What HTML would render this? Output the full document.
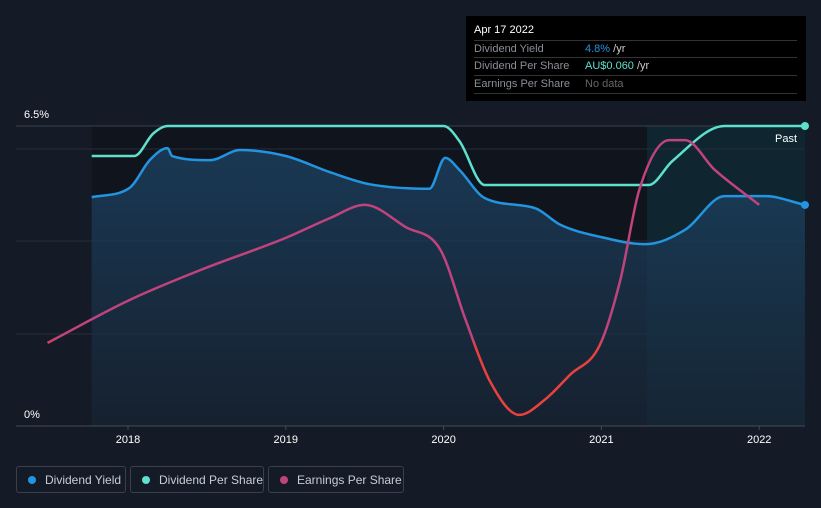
<!DOCTYPE html>
<html><head><meta charset="utf-8"><style>
body{margin:0;background:#151b26;width:821px;height:508px;overflow:hidden;font-family:"Liberation Sans",sans-serif}
svg{position:absolute;left:0;top:0}
.tip{position:absolute;left:466px;top:16px;width:340px;height:85px;background:#000;color:#fff;font-size:11px}
.tip .r{position:absolute;left:8px;width:323px;border-top:1px solid #333;height:17px;line-height:17px;color:#8a8f98}
.tip .v{position:absolute;left:111px}
.leg{position:absolute;top:466px;height:27px;border:1px solid #3a404b;border-radius:3px;color:#c8ccd2;font-size:12px;line-height:26px;box-sizing:border-box;padding-left:28px;white-space:nowrap}
.leg i{position:absolute;left:11px;top:9px;width:8px;height:8px;border-radius:50%}
</style></head><body>
<svg width="821" height="508">
<defs>
<linearGradient id="eg" gradientUnits="userSpaceOnUse" x1="0" y1="126" x2="0" y2="426">
<stop offset="0" stop-color="#c0437e"/><stop offset="0.7" stop-color="#c0437e"/><stop offset="0.74" stop-color="#e8413f"/><stop offset="1" stop-color="#e8413f"/>
</linearGradient>
<linearGradient id="fg" x1="0" y1="0" x2="0" y2="1"><stop offset="0" stop-color="#1d4466"/><stop offset="1" stop-color="#182535"/></linearGradient>
</defs>
<rect x="92" y="126" width="555" height="300" fill="#10141c"/>
<rect x="647" y="126" width="158" height="300" fill="#0f2530"/>
<g id="grid"></g>
<path id="yfill" fill="url(#fg)" opacity="0.75"/>
<path id="yline" fill="none" stroke="#2394df" stroke-width="2.5"/>
<path id="dline" fill="none" stroke="#5ee0cf" stroke-width="2.5"/>
<path id="eline" fill="none" stroke="url(#eg)" stroke-width="2.5"/>
<circle id="ddot" r="4" fill="#5ee0cf"/>
<circle id="ydot" r="4" fill="#2394df"/>
<line x1="16" x2="805" y1="426" y2="426" stroke="#444b56"/>
<g id="xt"></g>
<text x="24" y="118" fill="#fff" font-size="11">6.5%</text>
<text x="24" y="418" fill="#fff" font-size="11">0%</text>
<text x="797" y="142" fill="#fff" font-size="11" text-anchor="end">Past</text>
</svg>
<div class="tip">
<div style="position:absolute;left:8px;top:8px;font-size:11px">Apr 17 2022</div>
<div class="r" style="top:24px">Dividend Yield<span class="v"><span style="color:#2394df">4.8%</span> <span style="color:#ccc">/yr</span></span></div>
<div class="r" style="top:41px">Dividend Per Share<span class="v"><span style="color:#5ee0cf">AU$0.060</span> <span style="color:#ccc">/yr</span></span></div>
<div class="r" style="top:59px;border-bottom:1px solid #333">Earnings Per Share<span class="v" style="color:#666">No data</span></div>
</div>
<div class="leg" style="left:16px;width:110px"><i style="background:#2394df"></i>Dividend Yield</div>
<div class="leg" style="left:130px;width:134px"><i style="background:#5ee0cf"></i>Dividend Per Share</div>
<div class="leg" style="left:268px;width:136px"><i style="background:#c0437e"></i>Earnings Per Share</div>
<script>
const years=[2018,2019,2020,2021,2022];
const yieldT=[2017.77,2018.01,2018.14,2018.25,2018.28,2018.52,2018.71,2019.0,2019.28,2019.53,2019.91,2020.01,2020.10,2020.26,2020.58,2020.74,2020.99,2021.28,2021.53,2021.78,2022.04,2022.29];
const yieldV=[4.96,5.16,5.77,6.02,5.85,5.76,5.98,5.85,5.5,5.24,5.14,5.81,5.55,4.94,4.72,4.36,4.1,3.94,4.25,4.98,4.98,4.79];
const dpsT=[2017.77,2018.04,2018.16,2018.25,2020.0,2020.1,2020.26,2021.3,2021.45,2021.78,2022.29];
const dpsV=[0.054,0.054,0.0585,0.06,0.06,0.057,0.0482,0.0482,0.053,0.06,0.06];
const epsT=[2017.49,2018.01,2018.46,2019.0,2019.28,2019.50,2019.76,2019.98,2020.14,2020.29,2020.48,2020.64,2020.80,2020.99,2021.12,2021.24,2021.43,2021.53,2021.72,2022.0];
const epsV=[0.0277,0.042,0.052,0.0627,0.0693,0.0737,0.0663,0.0587,0.0353,0.0153,0.0037,0.0087,0.017,0.027,0.0487,0.0787,0.0953,0.0953,0.0853,0.0737];
const X=t=>128+(t-2018)*157.8;
const Yy=v=>426-v*46.15;
const Yd=v=>426-v*5000;
const Ye=v=>426-v*3000;
function mono(xs,ys){const n=xs.length,d=[],m=[];for(let i=0;i<n-1;i++)d.push((ys[i+1]-ys[i])/(xs[i+1]-xs[i]));
m[0]=d[0];m[n-1]=d[n-2];for(let i=1;i<n-1;i++)m[i]=(d[i-1]*d[i]<=0)?0:(d[i-1]+d[i])/2;
for(let i=0;i<n-1;i++){if(d[i]==0){m[i]=0;m[i+1]=0;continue;}const a=m[i]/d[i],b=m[i+1]/d[i],s=a*a+b*b;if(s>9){const t=3/Math.sqrt(s);m[i]=t*a*d[i];m[i+1]=t*b*d[i];}}
let p='M'+xs[0]+','+ys[0];for(let i=0;i<n-1;i++){const h=(xs[i+1]-xs[i])/3;p+=' C'+(xs[i]+h)+','+(ys[i]+m[i]*h)+' '+(xs[i+1]-h)+','+(ys[i+1]-m[i+1]*h)+' '+xs[i+1]+','+ys[i+1];}return p;}
const yx=yieldT.map(X),yy=yieldV.map(Yy);
const yp=mono(yx,yy);
document.getElementById('yline').setAttribute('d',yp);
document.getElementById('yfill').setAttribute('d',yp+' L'+yx[yx.length-1]+',426 L'+yx[0]+',426 Z');
const dx=dpsT.map(X),dy=dpsV.map(Yd);
document.getElementById('dline').setAttribute('d',mono(dx,dy));
document.getElementById('eline').setAttribute('d',mono(epsT.map(X),epsV.map(Ye)));
const dd=document.getElementById('ddot');dd.setAttribute('cx',dx[dx.length-1]);dd.setAttribute('cy',dy[dy.length-1]);
const yd=document.getElementById('ydot');yd.setAttribute('cx',yx[yx.length-1]);yd.setAttribute('cy',yy[yy.length-1]);
const ns='http://www.w3.org/2000/svg';
const g=document.getElementById('grid');
[126,149,241,334].forEach(y=>{const l=document.createElementNS(ns,'line');


l.setAttribute('x1',16);l.setAttribute('x2',805);l.setAttribute('y1',y);l.setAttribute('y2',y);l.setAttribute('stroke',y==126?'#3a404b':'#262c37');g.appendChild(l);});
const xt=document.getElementById('xt');
years.forEach(yr=>{const t=document.createElementNS(ns,'text');


t.setAttribute('x',X(yr));t.setAttribute('y',443);t.setAttribute('fill','#fff');t.setAttribute('font-size','11');t.setAttribute('text-anchor','middle');t.textContent=yr;xt.appendChild(t);
const l=document.createElementNS(ns,'line');


l.setAttribute('x1',X(yr));l.setAttribute('x2',X(yr));l.setAttribute('y1',426);l.setAttribute('y2',430);l.setAttribute('stroke','#444b56');xt.appendChild(l);});
</script>
</body></html>
